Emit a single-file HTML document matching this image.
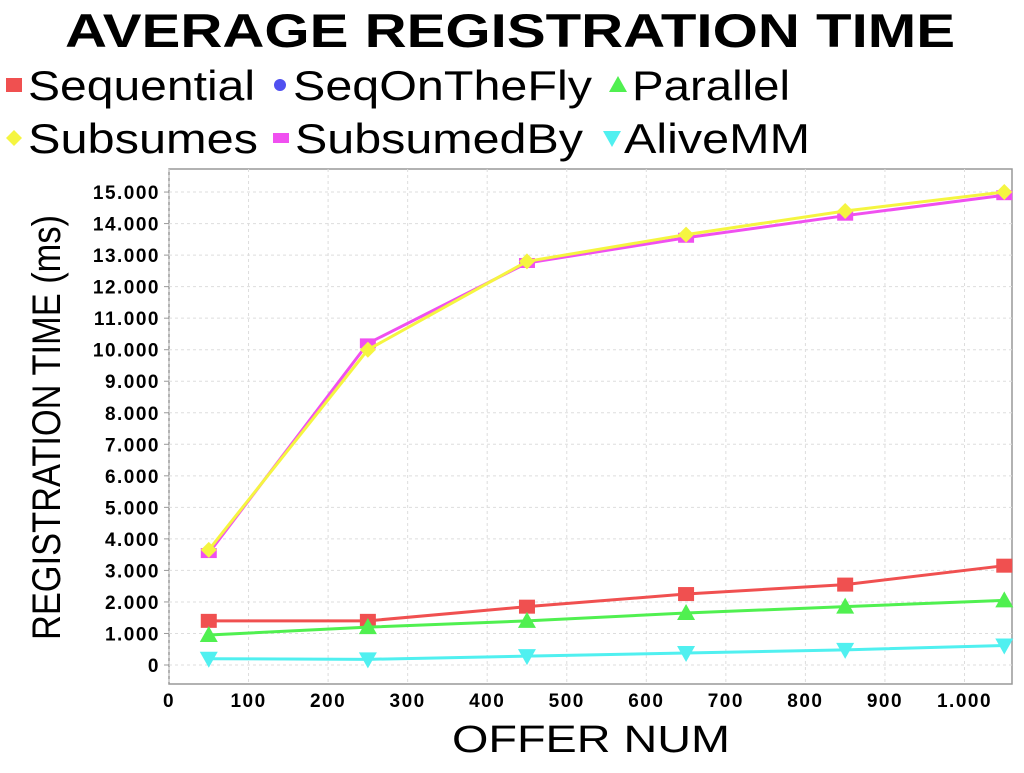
<!DOCTYPE html>
<html><head><meta charset="utf-8"><style>
body{margin:0;background:#fff;width:1024px;height:768px;overflow:hidden;font-family:"Liberation Sans",Arial,sans-serif}
</style></head><body>
<svg width="1024" height="768" id="svg">
<text x="65" y="47" font-size="47" font-weight="bold" font-family="Liberation Sans" textLength="890" lengthAdjust="spacingAndGlyphs">AVERAGE REGISTRATION TIME</text>
<g id="legend"></g>
<rect x="169" y="169" width="843" height="515" fill="#fff" stroke="#999" stroke-width="1.5"/>
<g id="grid"></g>
<g id="axes"></g>
<g id="series"></g>
<text x="452" y="752" font-size="38" textLength="278" lengthAdjust="spacingAndGlyphs">OFFER NUM</text>
<text transform="translate(60,640) rotate(-90)" font-size="40" textLength="425" lengthAdjust="spacingAndGlyphs">REGISTRATION TIME (ms)</text>
</svg>
<script>
const xVals=[50,250,450,650,850,1050];
const sequential=[1400,1400,1850,2250,2550,3150];
const parallel=[950,1200,1400,1650,1850,2050];
const aliveMM=[200,180,280,380,480,620];
const subsumedBy=[3550,10200,12750,13550,14250,14900];
const subsumes=[3650,10000,12800,13650,14400,15000];
const xTicks=[0,100,200,300,400,500,600,700,800,900,1000];
const xTickLabels=["0","100","200","300","400","500","600","700","800","900","1.000"];
const yTicks=[0,1000,2000,3000,4000,5000,6000,7000,8000,9000,10000,11000,12000,13000,14000,15000];
const yTickLabels=["0","1.000","2.000","3.000","4.000","5.000","6.000","7.000","8.000","9.000","10.000","11.000","12.000","13.000","14.000","15.000"];
const NS="http://www.w3.org/2000/svg";
const X=v=>169+v*0.7955, Y=v=>665-v*0.03153;
function mk(t,a,p){const e=document.createElementNS(NS,t);for(const k in a)e.setAttribute(k,a[k]);p.appendChild(e);return e;}
const grid=document.getElementById('grid'),axes=document.getElementById('axes'),ser=document.getElementById('series'),leg=document.getElementById('legend');
xTicks.forEach((v,i)=>{
 const g=mk('line',{x1:X(v),x2:X(v),y1:169,y2:684,stroke:'#ddd','stroke-dasharray':'3,3'},grid);
 
 
 const t=mk('text',{x:X(v),y:707,'text-anchor':'middle','font-size':19,'font-weight':'bold','letter-spacing':1.5},axes);
 t.textContent=xTickLabels[i];
 
 
});
yTicks.forEach((v,i)=>{
 const g=mk('line',{x1:169,x2:1012,y1:Y(v),y2:Y(v),stroke:'#ddd','stroke-dasharray':'3,3'},grid);
 
 
 mk('line',{x1:164,x2:169,y1:Y(v),y2:Y(v),stroke:'#999'},axes);
 const t=mk('text',{x:160,y:Y(v)+7,'text-anchor':'end','font-size':19,'font-weight':'bold','letter-spacing':1.5},axes);
 t.textContent=yTickLabels[i];
 
 
});
function marker(shape,x,y,c,p){
 let e;
 if(shape==='sq')e=mk('rect',{x:x-8,y:y-7,width:16,height:14,fill:c},p);
 else if(shape==='up')e=mk('polygon',{points:`${x},${y-9} ${x+9},${y+7} ${x-9},${y+7}`,fill:c},p);
 else if(shape==='down')e=mk('polygon',{points:`${x-9},${y-7} ${x+9},${y-7} ${x},${y+9}`,fill:c},p);
 else if(shape==='dia')e=mk('polygon',{points:`${x},${y-8} ${x+8},${y} ${x},${y+8} ${x-8},${y}`,fill:c},p);
 else if(shape==='bar')e=mk('rect',{x:x-8,y:y-5,width:16,height:10,fill:c},p);
 else e=mk('circle',{cx:x,cy:y,r:6,fill:c},p);
 return e;
}
const series=[
 ['sequential',sequential,'#f05050','sq'],
 ['parallel',parallel,'#50f050','up'],
 ['alivemm',aliveMM,'#50f0f0','down'],
 ['subsumedby',subsumedBy,'#f050f0','bar'],
 ['subsumes',subsumes,'#f5f540','dia']];
series.forEach(([n,d,c,s])=>{
 const g=mk('g',{},ser);
 
 
 const pl=mk('polyline',{points:d.map((v,i)=>X(xVals[i])+','+Y(v)).join(' '),fill:'none',stroke:c,'stroke-width':3},g);
 
 
 d.forEach((v,i)=>{const m=marker(s,X(xVals[i]),Y(v),c,g);
  
  });
});
const legItems=[['Sequential','#f05050','sq',14,85,28,227],['SeqOnTheFly','#5050f0','dot',280,85,293,299],['Parallel','#50f050','up',618,85,632,158],
['Subsumes','#f5f540','dia',14,138,28,230],['SubsumedBy','#f050f0','bar',281,138,295,288],['AliveMM','#50f0f0','down',612,138,624,186]];
legItems.forEach(([n,c,s,x,y,tx,tw])=>{
 const g=mk('g',{},leg);
 
 
 marker(s,x,y,c,g);
 const t=mk('text',{x:tx,y:y+15,'font-size':42,textLength:tw,lengthAdjust:'spacingAndGlyphs'},g);
 t.textContent=n;
});
</script>
</body></html>
